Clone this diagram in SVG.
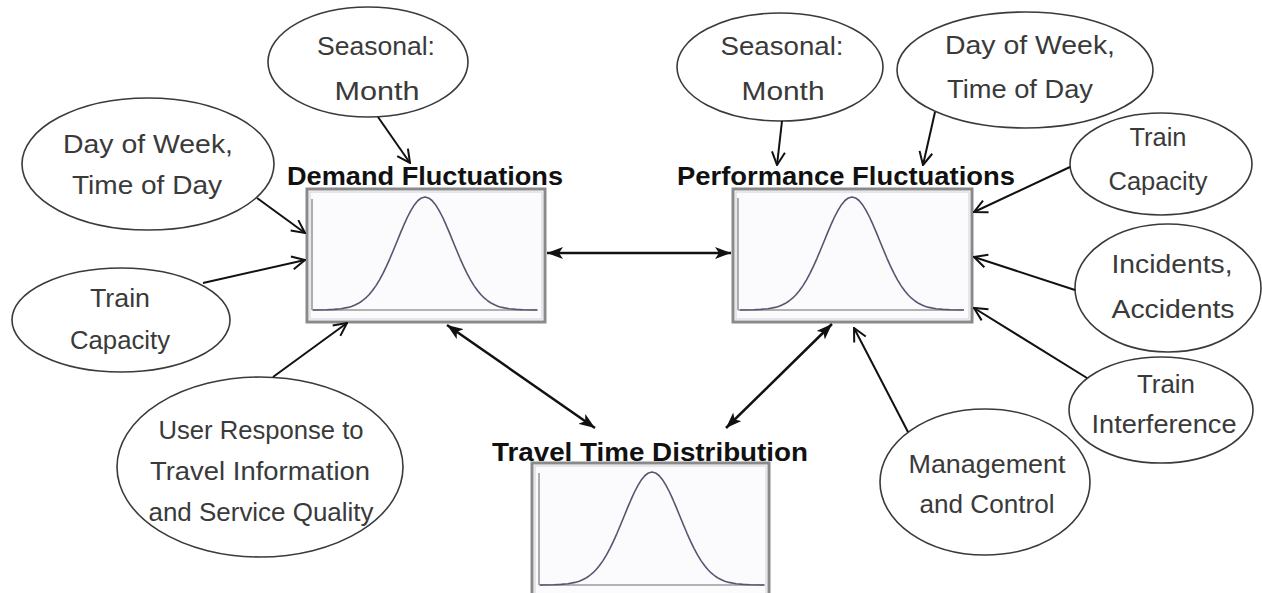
<svg xmlns="http://www.w3.org/2000/svg" width="1262" height="593" viewBox="0 0 1262 593">
<style>
.bg{fill:#ffffff}
.oval{fill:#ffffff;stroke:#3a3a3a;stroke-width:1.6}
.lbl{font-family:"Liberation Sans",Arial,sans-serif;font-size:25px;fill:#3a3a3a;text-anchor:middle}
.ttl{font-family:"Liberation Sans",Arial,sans-serif;font-size:25px;font-weight:bold;fill:#111;text-anchor:middle}
.frame{fill:#ffffff;stroke:#8a8a8a;stroke-width:3}
.frame2{fill:#fbfbfe;stroke:#d0d0d8;stroke-width:1}
.axis{stroke:#9a9a9a;stroke-width:1.6;fill:none}
.curve{fill:none;stroke:#55566e;stroke-width:1.6;stroke-linejoin:round}
.inf{stroke:#111;stroke-width:2;fill:none;marker-end:url(#openArrow)}
.dbl{stroke:#111;stroke-width:2.5;fill:none;marker-start:url(#solidArrow);marker-end:url(#solidArrow)}
</style>
<defs>
<marker id="openArrow" viewBox="0 0 16 16" refX="15" refY="8" markerWidth="16" markerHeight="16" markerUnits="userSpaceOnUse" orient="auto">
<path d="M2,1.5 L15,8 L2,14.5" fill="none" stroke="#111" stroke-width="2"/>
</marker>
<marker id="solidArrow" viewBox="0 0 16 12" refX="16" refY="6" markerWidth="16" markerHeight="12" markerUnits="userSpaceOnUse" orient="auto-start-reverse">
<path d="M0,0 L16,6 L0,12 L4,6 z" fill="#111"/>
</marker>
<path id="gauss" d="M-112,0 L-98,-0.25 L-91,-0.6 L-84,-1.3 L-77,-2.6 L-73.5,-3.6 L-70,-5 L-66.5,-6.7 L-63,-9 L-59.5,-11.8 L-56,-15.3 L-52.5,-19.5 L-49,-24.4 L-45.5,-30.2 L-42,-36.7 L-38.5,-43.9 L-35,-51.7 L-31.5,-60 L-28,-68.5 L-24.5,-77.1 L-21,-85.3 L-17.5,-93 L-14,-99.7 L-10.5,-105.3 L-7,-109.5 L-3.5,-112.1 L0,-113 L3.5,-112.1 L7,-109.5 L10.5,-105.3 L14,-99.7 L17.5,-93 L21,-85.3 L24.5,-77.1 L28,-68.5 L31.5,-60 L35,-51.7 L38.5,-43.9 L42,-36.7 L45.5,-30.2 L49,-24.4 L52.5,-19.5 L56,-15.3 L59.5,-11.8 L63,-9 L66.5,-6.7 L70,-5 L73.5,-3.6 L77,-2.6 L84,-1.3 L91,-0.6 L98,-0.25 L112,0"/>
</defs>
<rect class="bg" x="0" y="0" width="1262" height="593"/>

<g id="demand">
<rect class="frame" x="307" y="189" width="238" height="133"/>
<rect class="frame2" x="310" y="192" width="232" height="127"/>
<line class="axis" x1="312" y1="199" x2="312" y2="310"/>
<line class="axis" x1="312" y1="310" x2="538" y2="310"/>
<use href="#gauss" class="curve" transform="translate(425,310)"/>
<text class="ttl" x="425" y="185" textLength="276" lengthAdjust="spacingAndGlyphs">Demand Fluctuations</text>
</g>

<g id="performance">
<rect class="frame" x="733" y="189" width="239" height="133"/>
<rect class="frame2" x="736" y="192" width="233" height="127"/>
<line class="axis" x1="738" y1="198" x2="738" y2="310"/>
<line class="axis" x1="738" y1="310" x2="963" y2="310"/>
<use href="#gauss" class="curve" transform="translate(852,310)"/>
<text class="ttl" x="846" y="185" textLength="338" lengthAdjust="spacingAndGlyphs">Performance Fluctuations</text>
</g>

<g id="travel">
<rect class="frame" x="532" y="463" width="237" height="140"/>
<rect class="frame2" x="535" y="466" width="231" height="134"/>
<line class="axis" x1="539" y1="473" x2="539" y2="585"/>
<line class="axis" x1="539" y1="585" x2="765" y2="585"/>
<use href="#gauss" class="curve" transform="translate(652,585)"/>
<text class="ttl" x="650" y="461" textLength="316" lengthAdjust="spacingAndGlyphs">Travel Time Distribution</text>
</g>

<g id="seasonal-left">
<ellipse class="oval" cx="368" cy="62" rx="100" ry="55"/>
<text class="lbl" x="376" y="55" textLength="118" lengthAdjust="spacingAndGlyphs">Seasonal:</text>
<text class="lbl" x="377" y="100" textLength="85" lengthAdjust="spacingAndGlyphs">Month</text>
</g>

<g id="dow-left">
<ellipse class="oval" cx="148" cy="164" rx="126" ry="66"/>
<text class="lbl" x="148" y="153" textLength="170" lengthAdjust="spacingAndGlyphs">Day of Week,</text>
<text class="lbl" x="147" y="194" textLength="150" lengthAdjust="spacingAndGlyphs">Time of Day</text>
</g>

<g id="capacity-left">
<ellipse class="oval" cx="121" cy="320" rx="109" ry="52"/>
<text class="lbl" x="120" y="307" textLength="60" lengthAdjust="spacingAndGlyphs">Train</text>
<text class="lbl" x="120" y="349" textLength="100" lengthAdjust="spacingAndGlyphs">Capacity</text>
</g>

<g id="user-response">
<ellipse class="oval" cx="260" cy="467" rx="143" ry="90"/>
<text class="lbl" x="261" y="439" textLength="205" lengthAdjust="spacingAndGlyphs">User Response to</text>
<text class="lbl" x="260" y="480" textLength="220" lengthAdjust="spacingAndGlyphs">Travel Information</text>
<text class="lbl" x="261" y="521" textLength="225" lengthAdjust="spacingAndGlyphs">and Service Quality</text>
</g>

<g id="seasonal-right">
<ellipse class="oval" cx="780" cy="67" rx="103" ry="54"/>
<text class="lbl" x="782" y="55" textLength="123" lengthAdjust="spacingAndGlyphs">Seasonal:</text>
<text class="lbl" x="783" y="100" textLength="83" lengthAdjust="spacingAndGlyphs">Month</text>
</g>

<g id="dow-right">
<ellipse class="oval" cx="1025" cy="70" rx="128" ry="58"/>
<text class="lbl" x="1030" y="54" textLength="170" lengthAdjust="spacingAndGlyphs">Day of Week,</text>
<text class="lbl" x="1020" y="98" textLength="146" lengthAdjust="spacingAndGlyphs">Time of Day</text>
</g>

<g id="capacity-right">
<ellipse class="oval" cx="1161" cy="164" rx="91" ry="51"/>
<text class="lbl" x="1158" y="146" textLength="57" lengthAdjust="spacingAndGlyphs">Train</text>
<text class="lbl" x="1158" y="190" textLength="99" lengthAdjust="spacingAndGlyphs">Capacity</text>
</g>

<g id="incidents">
<ellipse class="oval" cx="1168" cy="288" rx="93" ry="64"/>
<text class="lbl" x="1172" y="273" textLength="121" lengthAdjust="spacingAndGlyphs">Incidents,</text>
<text class="lbl" x="1173" y="318" textLength="123" lengthAdjust="spacingAndGlyphs">Accidents</text>
</g>

<g id="interference">
<ellipse class="oval" cx="1161" cy="410" rx="92" ry="53"/>
<text class="lbl" x="1166" y="393" textLength="58" lengthAdjust="spacingAndGlyphs">Train</text>
<text class="lbl" x="1164" y="433" textLength="145" lengthAdjust="spacingAndGlyphs">Interference</text>
</g>

<g id="management">
<ellipse class="oval" cx="985" cy="482" rx="105" ry="73"/>
<text class="lbl" x="987" y="473" textLength="157" lengthAdjust="spacingAndGlyphs">Management</text>
<text class="lbl" x="987" y="513" textLength="135" lengthAdjust="spacingAndGlyphs">and Control</text>
</g>

<g id="connectors">
<line class="inf" x1="378" y1="117" x2="410" y2="163"/>
<line class="inf" x1="257" y1="198" x2="305" y2="233"/>
<line class="inf" x1="203" y1="283" x2="305" y2="260"/>
<line class="inf" x1="273" y1="377" x2="347" y2="323"/>
<line class="inf" x1="782" y1="121" x2="777" y2="165"/>
<line class="inf" x1="935" y1="112" x2="923" y2="165"/>
<line class="inf" x1="1070" y1="167" x2="974" y2="212"/>
<line class="inf" x1="1075" y1="290" x2="974" y2="257"/>
<line class="inf" x1="1087" y1="378" x2="974" y2="308"/>
<line class="inf" x1="908" y1="432" x2="854" y2="328"/>
<line class="dbl" x1="547" y1="253" x2="731" y2="253"/>
<line class="dbl" x1="447" y1="325" x2="595" y2="428"/>
<line class="dbl" x1="832" y1="324" x2="726" y2="428"/>
</g>
</svg>
